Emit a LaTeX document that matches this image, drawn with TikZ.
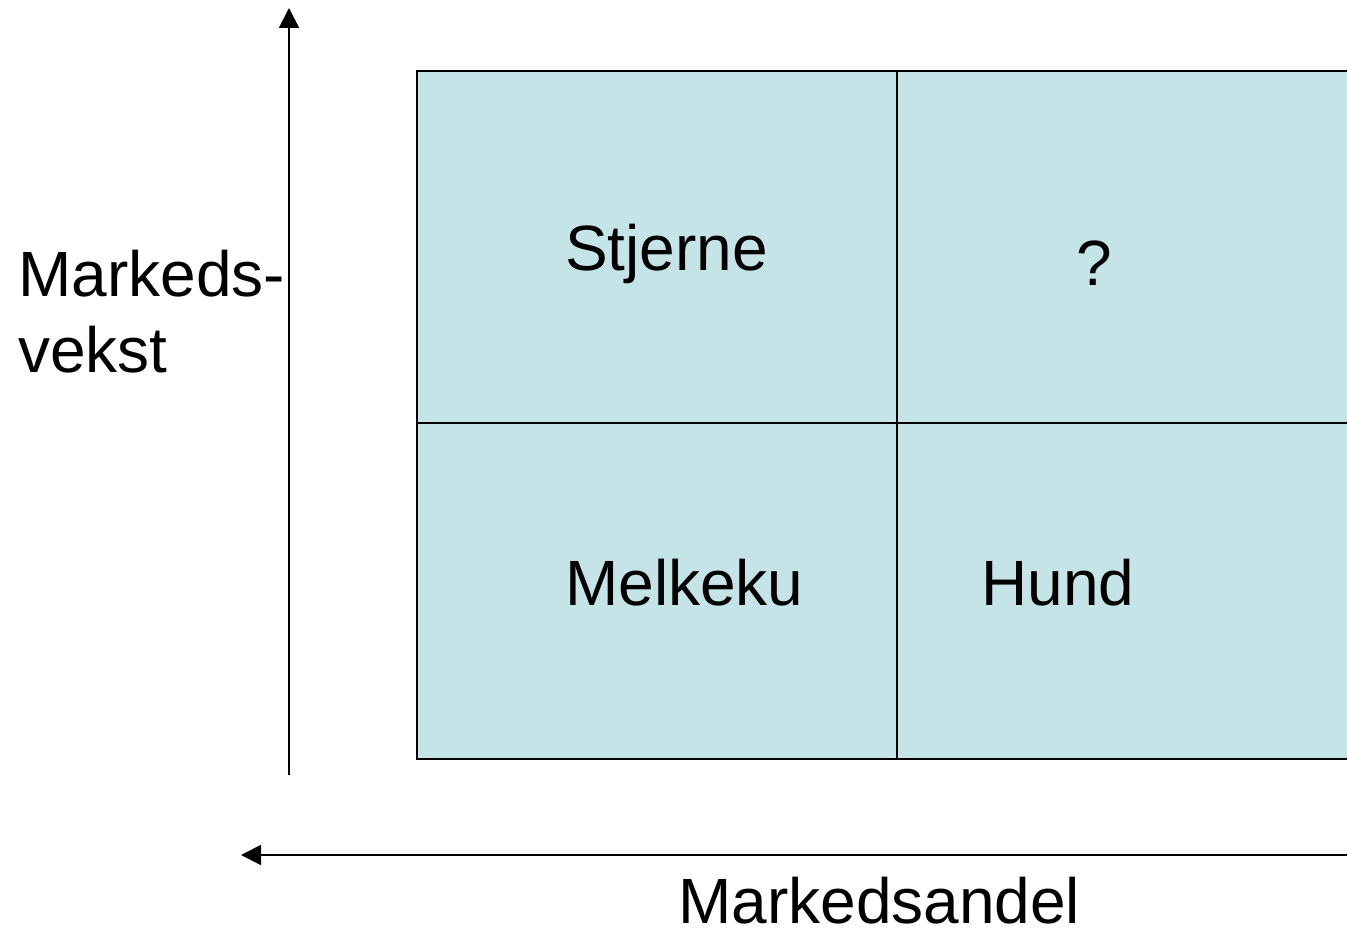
\documentclass[tikz,border=0pt]{standalone}
\usepackage{fontspec}
\setmainfont{Liberation Sans}
\usetikzlibrary{arrows.meta}
\definecolor{cellfill}{RGB}{197,228,232}
\begin{document}
\begin{tikzpicture}[x=0.75pt,y=-0.75pt,
  lbl/.style={anchor=base west,inner sep=0pt,font=\fontsize{48}{57}\selectfont},
  axis/.style={line width=1.4pt,-{Triangle[width=15pt,length=15pt]}},
  cell/.style={draw=black,line width=1.2pt,fill=cellfill}]
\useasboundingbox (0,0) rectangle (1347,931);
\clip (0,0) rectangle (1347,931);
\draw[cell] (417,71) rectangle (1360,759);
\draw[line width=1.2pt] (897,71) -- (897,759);
\draw[line width=1.2pt] (417,423) -- (1360,423);
\coordinate (ybot) at (289,775);
\coordinate (ytop) at (289,8);
\draw[axis] (ybot) -- (ytop);
\coordinate (xright) at (1347,855);
\coordinate (xleft) at (241,855);
\draw[axis] (xright) -- (xleft);
\node[lbl] (stj) at (565,270) {Stjerne};
\node[lbl] (q) at (1076,285) {?};
\node[lbl] (mel) at (565,605) {Melkeku};
\node[lbl] (hund) at (981,605) {Hund};
\node[lbl] (yl1) at (18,296) {Markeds-};
\node[lbl] (yl2) at (18,372) {vekst};
\node[lbl,text depth=0pt] (xl) at (678,923) {Markedsandel};
\end{tikzpicture}
\end{document}
